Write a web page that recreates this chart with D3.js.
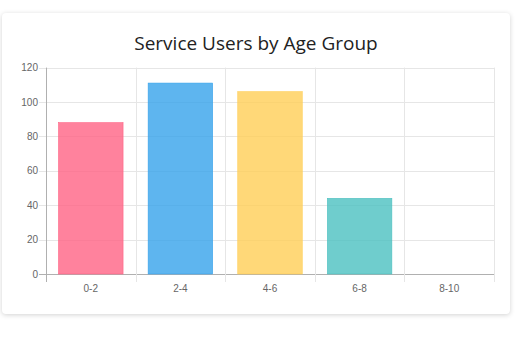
<!DOCTYPE html>
<html><head><meta charset="utf-8">
<script src="https://cdn.jsdelivr.net/npm/d3@7"></script>
<style>
html,body{margin:0;padding:0;background:#fff;width:526px;height:339px;overflow:hidden;}
#card{position:absolute;left:2px;top:13px;width:508px;height:301px;background:#fff;border-radius:4px;box-shadow:0 1px 5px rgba(0,0,0,0.18);}
svg{position:absolute;left:0;top:0;}
</style></head>
<body>
<div id="card"></div>
<svg id="chart" width="526" height="339"></svg>
<script>
const categories = ["0-2","2-4","4-6","6-8","8-10"];
const values = [88,111,106,44,0];
const yTicks = [0,20,40,60,80,100,120];
const fills = ["rgba(255,99,132,0.8)","rgba(54,162,235,0.8)","rgba(255,206,86,0.8)","rgba(75,192,192,0.8)","rgba(153,102,255,0.8)"];
const strokes = ["rgb(255,99,132)","rgb(54,162,235)","rgb(255,206,86)","rgb(75,192,192)","rgb(153,102,255)"];
const title = "Service Users by Age Group";

const svg = d3.select("#chart");
const L=46, R=494, T=67.6, B=274;
const x = d3.scaleBand().domain(categories).range([L,R]).padding(0);
const y = d3.scaleLinear().domain([0,120]).range([B,T]);

svg.append("text").attr("x",256).attr("y",50).attr("text-anchor","middle")
  .style("font-family","'Open Sans',sans-serif").style("font-size","19px").style("fill","#222")
  .text(title);

const grid = svg.append("g");
// horizontal gridlines
grid.selectAll("line.h").data(yTicks).enter().append("line")
  .attr("x1",L-7).attr("x2",R).attr("y1",d=>Math.round(y(d))+0.5).attr("y2",d=>Math.round(y(d))+0.5)
  .attr("stroke",d=>d===0?"#b0b0b0":"#e6e6e6").attr("stroke-width",1);
// vertical gridlines
const vx = categories.map(c=>x(c)).concat([R]);
grid.selectAll("line.v").data(vx).enter().append("line")
  .attr("x1",d=>Math.round(d)+0.5).attr("x2",d=>Math.round(d)+0.5).attr("y1",T).attr("y2",B+8)
  .attr("stroke",(d,i)=>i===0?"#b0b0b0":"#e6e6e6").attr("stroke-width",1);

// y labels
svg.selectAll("text.yl").data(yTicks).enter().append("text")
  .attr("x",L-8).attr("y",d=>y(d)).attr("dy","0.35em").attr("text-anchor","end")
  .style("font-family","'Liberation Sans',Arial,sans-serif").style("font-size","10px").style("fill","#666")
  .text(d=>d);
// x labels
svg.selectAll("text.xl").data(categories).enter().append("text")
  .attr("x",d=>x(d)+x.bandwidth()/2).attr("y",B+14).attr("dy","0.35em").attr("text-anchor","middle")
  .style("font-family","'Liberation Sans',Arial,sans-serif").style("font-size","10px").style("fill","#666")
  .text(d=>d);

// bars
const bw = x.bandwidth()*0.72;
svg.selectAll("rect.bar").data(categories).enter().append("rect")
  .attr("x",(d)=>x(d)+(x.bandwidth()-bw)/2)
  .attr("y",(d,i)=>y(values[i]))
  .attr("width",bw)
  .attr("height",(d,i)=>B-y(values[i]))
  .attr("fill",(d,i)=>fills[i])
  .attr("stroke",(d,i)=>values[i]>0?strokes[i]:"none").attr("stroke-width",0.6);
</script>
</body></html>
